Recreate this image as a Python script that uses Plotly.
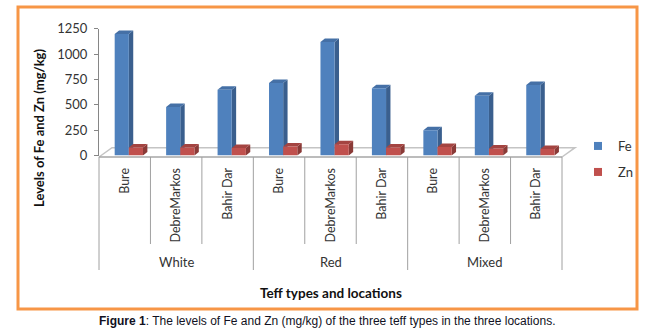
import plotly.graph_objects as go

# ---- data ----
teff_types = ["White", "Red", "Mixed"]
locations = ["Bure", "DebreMarkos", "Bahir Dar"]
categories = [(t, l) for t in teff_types for l in locations]
fe_values = [1200, 480, 650, 715, 1120, 665, 250, 590, 695]
zn_values = [80, 80, 75, 90, 110, 80, 85, 70, 65]
y_ticks = [0, 250, 500, 750, 1000, 1250]

W, H = 657, 336
FONT = "Lato"
TXT = "#333333"

def fx(px):
    return px / W

def fy(py):
    return 1 - py / H

# plot area in pixels
PX0, PX1 = 99, 562
PY_TOP, PY_BOT = 28.9, 155.5
YMAX = 1250
n = len(categories)
cat_w = (PX1 - PX0) / n
px_per_unit = (PY_BOT - PY_TOP) / YMAX

xs = list(range(n))
BAR_W = 0.275
FE_OFF, ZN_OFF = -0.195, 0.08
DX = 4.4 / cat_w           # 3D depth, x data units
DY = 3.5 / px_per_unit     # 3D depth, y data units

fe_col, fe_side, fe_top = "#4F81BD", "#3A5F8E", "#4570A6"
zn_col, zn_side, zn_top = "#C0504D", "#8A3A37", "#A44441"

fig = go.Figure()
fig.add_trace(go.Bar(x=xs, y=fe_values, name="Fe", width=BAR_W, offset=FE_OFF,
                     marker=dict(color=fe_col, line=dict(width=0)),
                     showlegend=False, legendgroup="Fe"))
fig.add_trace(go.Bar(x=xs, y=zn_values, name="Zn", width=BAR_W, offset=ZN_OFF,
                     marker=dict(color=zn_col, line=dict(width=0)),
                     showlegend=False, legendgroup="Zn"))
# legend entries
fig.add_trace(go.Scatter(x=[None], y=[None], mode="markers", name="Fe", legendgroup="Fe",
                         marker=dict(symbol="square", size=8, color=fe_col), legend="legend"))
fig.add_trace(go.Scatter(x=[None], y=[None], mode="markers", name="Zn", legendgroup="Zn",
                         marker=dict(symbol="square", size=8, color=zn_col), legend="legend2"))

shapes = []

def add_3d(x, val, off, side, top):
    l = x + off
    r = l + BAR_W
    shapes.append(dict(type="path", xref="x", yref="y", layer="below",
                       path=f"M {r},0 L {r+DX},{DY} L {r+DX},{val+DY} L {r},{val} Z",
                       fillcolor=side, line=dict(width=0)))
    shapes.append(dict(type="path", xref="x", yref="y", layer="below",
                       path=f"M {l},{val} L {l+DX},{val+DY} L {r+DX},{val+DY} L {r},{val} Z",
                       fillcolor=top, line=dict(width=0)))

for x, v in zip(xs, fe_values):
    add_3d(x, v, FE_OFF, fe_side, fe_top)
for x, v in zip(xs, zn_values):
    add_3d(x, v, ZN_OFF, zn_side, zn_top)

# floor
FLOOR_FRONT, FLOOR_BACK, FLOOR_DX = 157, 147.7, 13
shapes.append(dict(type="path", xref="paper", yref="paper", layer="below",
                   path=(f"M {fx(PX0)},{fy(FLOOR_FRONT)} L {fx(PX0+FLOOR_DX)},{fy(FLOOR_BACK)} "
                         f"L {fx(PX1+FLOOR_DX)},{fy(FLOOR_BACK)} L {fx(PX1)},{fy(FLOOR_FRONT)}"),
                   line=dict(color="#C4C4C4", width=1.5)))
shapes.append(dict(type="line", xref="paper", yref="paper", layer="above",
                   x0=fx(PX0), x1=fx(PX1), y0=fy(FLOOR_FRONT), y1=fy(FLOOR_FRONT),
                   line=dict(color="#A6A6A6", width=1.5)))

# category dividers
for k in range(n + 1):
    px = PX0 + k * cat_w
    bottom = 270 if k % 3 == 0 else 244
    shapes.append(dict(type="line", xref="paper", yref="paper",
                       x0=fx(px), x1=fx(px), y0=fy(FLOOR_FRONT), y1=fy(bottom),
                       line=dict(color="#A0A0A0", width=1)))

# orange frame
shapes.append(dict(type="rect", xref="paper", yref="paper",
                   x0=fx(18), x1=fx(637), y0=fy(309), y1=fy(7),
                   line=dict(color="#F79646", width=3)))

annotations = []
for g, t in enumerate(teff_types):
    cx = PX0 + (g * 3 + 1.5) * cat_w
    annotations.append(dict(x=fx(cx), y=fy(262), xref="paper", yref="paper", text=t,
                            showarrow=False, font=dict(family=FONT, size=13, color=TXT),
                            xanchor="center", yanchor="middle"))
annotations.append(dict(x=fx(331), y=fy(293), xref="paper", yref="paper",
                        text="<b>Teff types and locations</b>", showarrow=False,
                        font=dict(family=FONT, size=13.5, color="#111111"),
                        xanchor="center", yanchor="middle"))
annotations.append(dict(x=fx(39), y=fy(128), xref="paper", yref="paper",
                        text="<b>Levels of Fe and Zn (mg/kg)</b>", textangle=-90, showarrow=False,
                        font=dict(family=FONT, size=13, color="#111111"),
                        xanchor="center", yanchor="middle"))
annotations.append(dict(x=fx(327), y=fy(321), xref="paper", yref="paper",
                        text="<b>Figure 1</b>: The levels of Fe and Zn (mg/kg) of the three teff types in the three locations.",
                        showarrow=False,
                        font=dict(family="Liberation Sans, Arial", size=12, color="#111122"),
                        xanchor="center", yanchor="middle"))

fig.update_layout(
    width=W, height=H,
    margin=dict(l=0, r=0, t=0, b=0, autoexpand=False),
    paper_bgcolor="white", plot_bgcolor="white",
    barmode="overlay",
    shapes=shapes, annotations=annotations,
    xaxis=dict(domain=[fx(PX0), fx(PX1)], range=[-0.5, n - 0.5], automargin=False,
               tickvals=xs, ticktext=[c[1] for c in categories], tickangle=-90,
               ticks="", showline=False, showgrid=False, zeroline=False,
               ticklabelstandoff=9,
               tickfont=dict(family=FONT, size=12.5, color=TXT)),
    yaxis=dict(domain=[fy(PY_BOT), fy(PY_TOP)], range=[0, YMAX], automargin=False,
               tickvals=y_ticks, showgrid=False, zeroline=False,
               showline=True, linecolor="#868686", linewidth=1,
               ticks="outside", ticklen=4, tickcolor="#868686",
               ticklabelstandoff=4,
               tickfont=dict(family=FONT, size=13, color=TXT)),
    legend=dict(x=fx(578), y=fy(146), xanchor="left", yanchor="middle",
                font=dict(family=FONT, size=13, color=TXT), bgcolor="rgba(0,0,0,0)"),
    legend2=dict(x=fx(578), y=fy(172), xanchor="left", yanchor="middle",
                 font=dict(family=FONT, size=13, color=TXT), bgcolor="rgba(0,0,0,0)"),
)

fig.write_html(
    "out.html",
    config={"displayModeBar": False},
    post_script="document.body.style.margin='0';document.documentElement.style.overflow='hidden';document.body.style.overflow='hidden';",
)
